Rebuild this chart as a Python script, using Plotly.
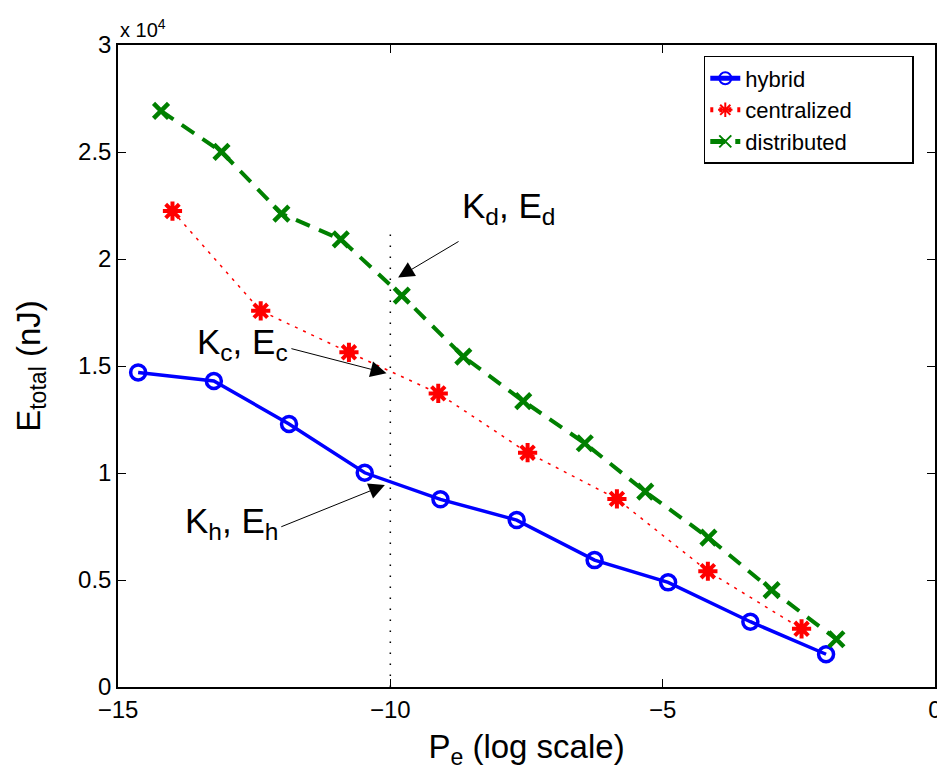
import plotly.graph_objects as go

# ---- data (values x 1) ----
hyb_x = [-14.63, -13.24, -11.86, -10.47, -9.08, -7.68, -6.25, -4.90, -3.39, -2.00]
hyb_y = [14700, 14300, 12290, 10010, 8770, 7800, 5930, 4890, 3050, 1530]

cen_x = [-14.00, -12.38, -10.76, -9.12, -7.48, -5.84, -4.17, -2.45]
cen_y = [22240, 17580, 15640, 13720, 10950, 8790, 5410, 2720]

dis_x = [-14.21, -13.10, -12.00, -10.91, -9.79, -8.66, -7.56, -6.43, -5.32, -4.16, -3.00, -1.81]
dis_y = [26920, 25010, 22120, 20920, 18290, 15440, 13360, 11390, 9130, 6980, 4530, 2230]

x_ticks = [-15, -10, -5, 0]
y_ticks = [0, 5000, 10000, 15000, 20000, 25000, 30000]
y_ticktext = ["0", "0.5", "1", "1.5", "2", "2.5", "3"]

FONT = "Liberation Sans, Arial, sans-serif"
PAD = "\u00a0" * 9

fig = go.Figure()
fig.add_trace(go.Scatter(
    x=hyb_x, y=hyb_y, name="hybrid" + PAD, mode="lines+markers",
    line=dict(color="#0000ff", width=3.5),
    marker=dict(symbol="circle-open", size=15, color="#0000ff", line=dict(width=3.5)),
))
fig.add_trace(go.Scatter(
    x=cen_x, y=cen_y, name="centralized" + PAD, mode="lines+markers",
    line=dict(color="#ff0000", width=1.5, dash="3px,6px"),
    marker=dict(symbol="asterisk-open", size=16, color="#ff0000", line=dict(width=4, color="#ff0000")),
))
fig.add_trace(go.Scatter(
    x=dis_x, y=dis_y, name="distributed" + PAD, mode="lines+markers",
    line=dict(color="#008000", width=4, dash="15px,10px"),
    marker=dict(symbol="x-thin-open", size=15, color="#008000", line=dict(width=4.5, color="#008000")),
))

# vertical dotted line at x = -10
fig.add_trace(go.Scatter(
    x=[-10, -10], y=[0, 21500], mode="lines", showlegend=False, hoverinfo="skip",
    line=dict(color="black", width=1.5, dash="1.5px,9.5px"),
))

ann_font = dict(family=FONT, size=35, color="black")
arrow_style = dict(xref="x", yref="y", axref="x", ayref="y", showarrow=True,
                   arrowhead=2, arrowsize=3.2, arrowwidth=1, arrowcolor="black", text="")
annotations = [
    # arrows
    dict(x=-9.857, y=19140, ax=-8.72, ay=20860, **arrow_style),
    dict(x=-10.07, y=14660, ax=-11.844, ay=15830, **arrow_style),
    dict(x=-10.10, y=9440, ax=-12.03, ay=7460, **arrow_style),
    # labels
    dict(x=-7.83, y=22400, xref="x", yref="y", text="K<sub>d</sub>, E<sub>d</sub>",
         showarrow=False, font=ann_font, xanchor="center", yanchor="middle"),
    dict(x=-12.71, y=16050, xref="x", yref="y", text="K<sub>c</sub>, E<sub>c</sub>",
         showarrow=False, font=ann_font, xanchor="center", yanchor="middle"),
    dict(x=-12.91, y=7650, xref="x", yref="y", text="K<sub>h</sub>, E<sub>h</sub>",
         showarrow=False, font=ann_font, xanchor="center", yanchor="middle"),
    # exponent label
    dict(x=0, y=1, xref="paper", yref="paper", text="x 10<sup>4</sup>", showarrow=False,
         font=dict(family=FONT, size=20, color="black"), xanchor="left", yanchor="bottom",
         xshift=0, yshift=2),
]

# page body adds an 8px offset; the figure is sized to compensate
fig.update_layout(
    width=937, height=766,
    margin=dict(l=110, r=10, t=37, b=87, autoexpand=False),
    paper_bgcolor="white", plot_bgcolor="white",
    font=dict(family=FONT, size=24, color="black"),
    showlegend=True,
    legend=dict(x=0.717, y=0.983, xanchor="left", yanchor="top",
                bgcolor="white", bordercolor="black", borderwidth=1.5,
                font=dict(family=FONT, size=22, color="black"),
                tracegroupgap=0, itemsizing="constant"),
    annotations=annotations,
)
fig.update_xaxes(
    range=[-15, 0], tickvals=x_ticks, ticks="inside", ticklen=8, tickcolor="black",
    showline=True, linecolor="black", linewidth=1.5, mirror="ticks",
    showgrid=False, zeroline=False, automargin=False,
    title=dict(text="P<sub>e</sub> (log scale)", font=dict(family=FONT, size=33), standoff=13),
    tickfont=dict(size=24),
)
fig.update_yaxes(
    range=[0, 30000], tickvals=y_ticks, ticktext=y_ticktext, ticks="inside", ticklen=8,
    tickcolor="black", showline=True, linecolor="black", linewidth=1.5, mirror="ticks",
    showgrid=False, zeroline=False, automargin=False,
    title=dict(text="E<sub>total</sub> (nJ)", font=dict(family=FONT, size=33), standoff=28),
    tickfont=dict(size=24),
)

fig.write_html("out.html")
